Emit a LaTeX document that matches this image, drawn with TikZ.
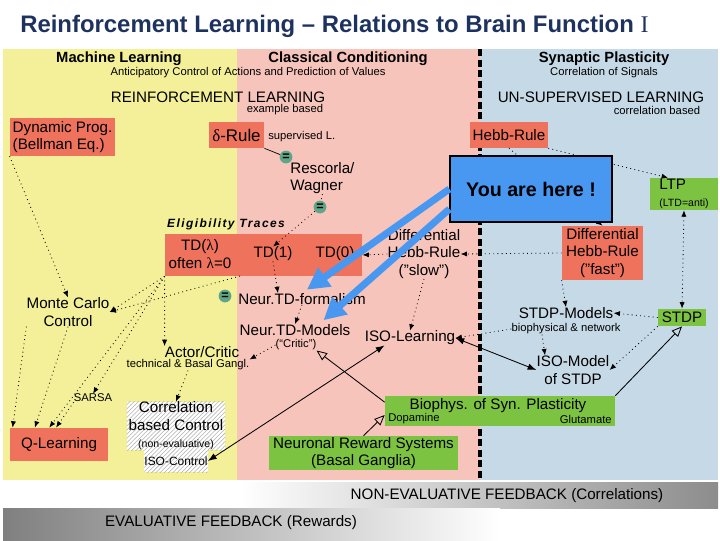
\documentclass[tikz,border=0pt]{standalone}
\usepackage{fontspec}
\setmainfont{Liberation Sans}
\newfontfamily\romanI{Liberation Serif}
\usetikzlibrary{positioning,arrows.meta,patterns}

\definecolor{yellowbg}{RGB}{243,240,153}
\definecolor{pinkbg}{RGB}{246,196,186}
\definecolor{bluebg}{RGB}{197,217,230}
\definecolor{salmon}{RGB}{238,114,92}
\definecolor{leaf}{RGB}{125,195,66}
\definecolor{eqteal}{RGB}{95,165,135}
\definecolor{hereblue}{RGB}{72,152,242}
\definecolor{titlenavy}{RGB}{30,50,95}

\begin{document}
\begin{tikzpicture}[x=0.025cm, y=-0.025cm,
    every node/.style={font=\fontsize{10.8}{12.5}\selectfont, inner sep=0pt, align=center},
    smalltext/.style={font=\fontsize{8}{9.5}\selectfont},
    colhead/.style={font=\bfseries\fontsize{10.5}{12}\selectfont},
    redbox/.style={fill=salmon},
    greenbox/.style={fill=leaf},
    hatchbox/.style={fill=white, postaction={pattern=north east lines, pattern color=black!30}},
    eqdot/.style={circle, fill=eqteal, minimum size=3.2mm, font=\bfseries\fontsize{9}{9}\selectfont},
    dotline/.style={line width=0.6pt, dash pattern=on 0.6pt off 2.4pt},
    dotarr/.style={dotline, -{Latex[length=1.6mm,width=1.3mm]}},
    dotboth/.style={dotline, {Latex[length=1.6mm,width=1.3mm]}-{Latex[length=1.6mm,width=1.3mm]}},
    openarr/.style={line width=0.6pt, -{Triangle[open,length=2.6mm,width=2.2mm]}},
    solidboth/.style={line width=0.6pt, {Latex[length=2.2mm,width=1.6mm]}-{Latex[length=2.2mm,width=1.6mm]}},
    bigarr/.style={line width=5pt, hereblue, shorten >=1.5mm, -{Triangle[length=5.5mm,width=5.5mm]}}]
    \useasboundingbox (0,0) rectangle (720,540);

    % Title
    \node[anchor=west, font=\bfseries\fontsize{17}{20}\selectfont, text=titlenavy] (title) at (20,26)
        {Reinforcement Learning -- Relations to Brain Function {\romanI\mdseries I}};

    % Panels - machine learning / classical conditioning / synaptic plasticity
    \fill[yellowbg] (3,49) rectangle (237,480);
    \fill[pinkbg] (237,49) rectangle (480,480);
    \fill[bluebg] (480,49) rectangle (718,480);
    \draw[line width=2.6pt, dash pattern=on 5pt off 2.5pt] (480,49) -- (480,480);

    % Feedback bars
    \shade[left color=white, right color=black!45] (240,482) rectangle (718,508);
    \shade[left color=black!50, right color=white] (3,508) rectangle (500,540);
    \node (nef) at (507,496) {NON-EVALUATIVE FEEDBACK (Correlations)};
    \node (ef) at (231,523) {EVALUATIVE FEEDBACK (Rewards)};

    % Headers
    \node[colhead] (ml) at (119,59) {Machine Learning};
    \node[colhead] (cc) at (348,59) {Classical Conditioning};
    \node[colhead] (sp) at (604,59) {Synaptic Plasticity};
    \node[smalltext] (acpv) at (248,73) {Anticipatory Control of Actions and Prediction of Values};
    \node[smalltext] (cos) at (604,73) {Correlation of Signals};
    \node (rl) at (218,97) {REINFORCEMENT LEARNING};
    \node[smalltext] (exb) at (285,110) {example based};
    \node (ul) at (601,97) {UN-SUPERVISED LEARNING};
    \node[smalltext] (corb) at (657,110) {correlation based};

    % Rules and learning methods
    \node[redbox, minimum width=2.63cm, minimum height=0.95cm, align=left] (dp) at (62.5,137) {Dynamic Prog.\\(Bellman Eq.)};
    \node[redbox, minimum width=1.38cm, minimum height=0.65cm, font=\fontsize{12}{14}\selectfont] (drule) at (236.5,135) {{\romanI δ}-Rule};
    \node[smalltext, anchor=west] (supl) at (268,137) {supervised L.};
    \node[redbox, minimum width=1.95cm, minimum height=0.65cm] (hebb) at (509,135) {Hebb-Rule};
    \node[align=left, anchor=west] (rw) at (290,178) {Rescorla/\\Wagner};
    \node[greenbox, minimum width=1.7cm, minimum height=0.8cm, align=left] (ltp) at (684,194) {LTP\\{\fontsize{7.5}{9}\selectfont (LTD=anti)}};
    \foreach \n/\x/\y in {eq1/286/157, eq2/320/207, eq3/225/296}
        \node[eqdot] (\n) at (\x,\y) {=};

    % Eligibility traces
    \node[font=\bfseries\itshape\fontsize{8.5}{10}\selectfont\addfontfeature{LetterSpace=12}] (elig) at (226,224) {Eligibility Traces};
    \node[redbox, minimum width=4.93cm, minimum height=1.05cm] (tdbox) at (263.5,255) {};
    \node (tdl) at (200,254) {TD({\romanI λ})\\often {\romanI λ}=0};
    \node (td1) at (273,254) {TD(1)};
    \node (td0) at (335,254) {TD(0)};
    \node (dhs) at (424,254) {Differential\\Hebb-Rule\\("slow")};
    \node[redbox, minimum width=2.03cm, minimum height=1.35cm] (dhf) at (602.5,253) {Differential\\Hebb-Rule\\("fast")};
    \coordinate (tdfoot) at (240,276);

    % Models
    \node (mc) at (68,312) {Monte Carlo\\Control};
    \node (tdf) at (302,299) {Neur.TD-formalism};
    \node (tdm) at (295,330) {Neur.TD-Models};
    \node[smalltext] (critic) at (296,345) {(“Critic”)};
    \node (stdpm) at (566,313) {STDP-Models};
    \node[smalltext] (biop) at (566,329) {biophysical \& network};
    \node[greenbox, minimum width=1.2cm, minimum height=0.43cm] (stdp) at (682,317.5) {STDP};
    \node (ac) at (202,352) {Actor/Critic};
    \node[smalltext] (tbg) at (188,365) {technical \& Basal Gangl.};
    \node (iso) at (410,338) {ISO-Learning};
    \node (isom) at (573,370) {ISO-Model\\of STDP};
    \node[smalltext] (sarsa) at (93,398) {SARSA};

    % Control and biology
    \node[hatchbox, minimum width=2.45cm, minimum height=1.05cm] (cbc) at (176,426) {Correlation\\based Control\\{\fontsize{7.5}{9}\selectfont (non-evaluative)}};
    \node[hatchbox, minimum width=1.55cm, minimum height=0.55cm, font=\fontsize{8.5}{10}\selectfont] (isoc) at (176,461) {ISO-Control};
    \node[redbox, minimum width=2.45cm, minimum height=0.83cm] (ql) at (59,444.5) {Q-Learning};
    \node[greenbox, minimum width=5.75cm, minimum height=0.75cm] (bio) at (500,411) {};
    \node (biot) at (498,406) {Biophys. of Syn. Plasticity};
    \node[smalltext, anchor=west] (dopa) at (388,419) {Dopamine};
    \node[smalltext, anchor=east] (glut) at (612,419) {Glutamate};
    \node[greenbox, minimum width=4.73cm, minimum height=0.85cm] (nrs) at (363.5,453) {Neuronal Reward Systems\\(Basal Ganglia)};

    % Dotted relations
    \draw[dotarr] (dp.south west) -- (mc.north);
    \draw[dotarr] (mc.south west) -- (ql.160);
    \draw[dotarr] (mc.south) -- (ql.145);
    \draw[dotarr] (tdbox.south west) -- (mc.east);
    \draw[dotarr] (tdfoot) -- (mc.east);
    \draw[dotarr] (tdbox.south west) -- (ql.120);
    \draw[dotarr] (tdbox.south west) -- (sarsa.north);
    \draw[dotarr] (sarsa.south west) -- (ql.100);
    \draw[dotarr] (tdbox.south west) -- (ac.north west);
    \draw[dotarr] (tbg.south) -- (cbc.north);
    \draw[dotarr] (critic.west) -- (tbg.north east);
    \draw[dotarr] (tdf.south) -- (tdm.north);
    \draw[dotarr] (td1.south) -- ([xshift=-6mm]tdf.north);
    \draw[dotline] (rw.south) -- (eq2);
    \draw[dotarr] (eq2) -- (td1.north);
    \draw[line width=0.5pt] (drule.south east) -- (eq1);
    \draw[dotarr] (dhs.west) -- (tdbox.east);
    \draw[dotarr] (dhf.west) -- (dhs.east);
    \draw[dotarr] (dhs.south) -- (iso.north);
    \draw[dotarr] (biop.west) -- (iso.east);
    \draw[dotarr] (stdp.west) -- (stdpm.east);
    \draw[dotarr] (stdp.south west) -- (isom.east);
    \draw[dotboth] (ltp.south) -- (stdp.north);
    \draw[dotarr] (hebb.south east) -- ([xshift=-4mm]ltp.north);
    \draw[dotarr] (hebb.south) -- (dhf.north);
    \draw[dotarr] (dhf.south west) -- (stdpm.north);
    \draw[dotarr] ([xshift=-6mm]biop.south) -- ([xshift=-7mm]isom.north);

    % Solid relations
    \draw[openarr] ([yshift=2.2mm]bio.west) -- (critic.south east);
    \draw[openarr] (nrs.north) -- ([yshift=-1mm]bio.west);
    \draw[openarr] (bio.north east) -- (stdp.south);
    \draw[solidboth] (isoc.east) -- ([xshift=5mm]iso.south west);
    \draw[solidboth] (iso.east) -- (isom.west);

    % You are here
    \node[fill=hereblue, draw=black, line width=0.8pt, minimum width=4.05cm, minimum height=1.65cm,
          font=\bfseries\fontsize{14}{16}\selectfont] (here) at (531,189) {You are here !};
    \draw[bigarr] (here.west) -- (tdf.north);
    \draw[bigarr] ([yshift=-5mm]here.west) -- ([xshift=6mm]tdm.north);
\end{tikzpicture}
\end{document}
